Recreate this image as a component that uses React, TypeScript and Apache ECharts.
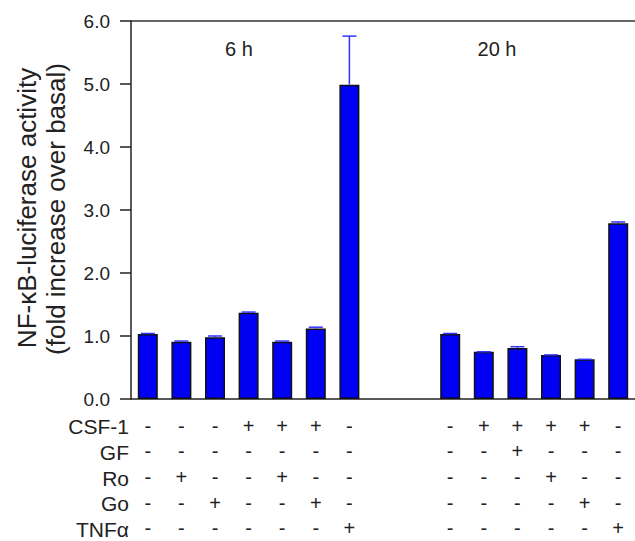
import React, { useEffect, useRef } from "react";
import * as echarts from "echarts";

// Categories: 7 conditions at 6 h, two empty gap slots, 6 conditions at 20 h
const slotIds = ["6h-1", "6h-2", "6h-3", "6h-4", "6h-5", "6h-6", "6h-7", "gap-1", "gap-2", "20h-1", "20h-2", "20h-3", "20h-4", "20h-5", "20h-6"];
const values: (number | null)[] = [1.03, 0.91, 0.98, 1.37, 0.91, 1.12, 4.99, null, null, 1.03, 0.75, 0.81, 0.70, 0.63, 2.79];
const errors: (number | null)[] = [0.01, 0.01, 0.02, 0.01, 0.01, 0.02, 0.77, null, null, 0.01, 0.0, 0.02, 0.0, 0.0, 0.02];

const rowNames = ["CSF-1", "GF", "Ro", "Go", "TNF\u03b1"];
const csf1 = ["-", "-", "-", "+", "+", "+", "-", "", "", "-", "+", "+", "+", "+", "-"];
const gf = ["-", "-", "-", "-", "-", "-", "-", "", "", "-", "-", "+", "-", "-", "-"];
const ro = ["-", "+", "-", "-", "+", "-", "-", "", "", "-", "-", "-", "+", "-", "-"];
const go = ["-", "-", "+", "-", "-", "+", "-", "", "", "-", "-", "-", "-", "+", "-"];
const tnf = ["-", "-", "-", "-", "-", "-", "+", "", "", "-", "-", "-", "-", "-", "+"];
const treatmentRows = [csf1, gf, ro, go, tnf];

const groupLabels = ["6 h", "20 h"];
const yTicks = [0, 1, 2, 3, 4, 5, 6];
const yTitle = ["NF-\u03baB-luciferase activity", "(fold increase over basal)"];

const FONT = "'Liberation Sans', Arial, Helvetica, sans-serif";

export default function App() {
  const ref = useRef<HTMLDivElement>(null);
  useEffect(() => {
    if (!ref.current) return;
    const chart = echarts.init(ref.current, null, { renderer: "svg" });
    const rowLineH = 25.6;
    const rowTop = 414;
    const errData = values
      .map((v, i) => (v === null || errors[i] === null ? null : [i, v, errors[i]]))
      .filter((d) => d !== null);
    chart.setOption({
      animation: false,
      backgroundColor: "#ffffff",
      grid: { left: 131, top: 21, width: 508, height: 379, containLabel: false },
      xAxis: [
        {
          type: "category",
          data: slotIds,
          position: "bottom",
          axisLine: { show: true, lineStyle: { color: "#222", width: 1.5 } },
          axisTick: { show: false },
          axisLabel: {
            interval: 0,
            margin: 14,
            fontFamily: FONT,
            fontSize: 20,
            color: "#222",
            lineHeight: rowLineH,
            formatter: (_v: string, idx: number) => treatmentRows.map((r) => r[idx] || " ").join("\n"),
          },
        },
        {
          type: "category",
          data: slotIds,
          position: "top",
          axisLine: { show: true, lineStyle: { color: "#333", width: 1.5 } },
          axisTick: { show: false },
          axisLabel: { show: false },
        },
      ],
      yAxis: {
        type: "value",
        min: yTicks[0],
        max: yTicks[yTicks.length - 1],
        interval: 1,
        axisLine: { show: true, lineStyle: { color: "#222", width: 1.5 } },
        axisTick: { show: true, length: 11, inside: false, lineStyle: { color: "#222", width: 1.5 } },
        splitLine: { show: false },
        axisLabel: {
          margin: 21,
          fontFamily: FONT,
          fontSize: 19,
          color: "#222",
          formatter: (v: number) => v.toFixed(1),
        },
      },
      series: [
        {
          type: "bar",
          data: values,
          barWidth: 20,
          itemStyle: { color: "#0000f2", borderColor: "#111", borderWidth: 1.5 },
        },
        {
          type: "custom",
          data: errData,
          z: 5,
          renderItem: (params: any, api: any) => {
            const x = api.value(0);
            const y = api.value(1);
            const e = api.value(2);
            const p0 = api.coord([x, y]);
            const p1 = api.coord([x, y + e]);
            const hw = 7;
            const st = { stroke: "#3333ff", lineWidth: 1.5 };
            return {
              type: "group",
              children: [
                { type: "line", shape: { x1: p0[0], y1: p0[1], x2: p1[0], y2: p1[1] }, style: st },
                { type: "line", shape: { x1: p1[0] - hw, y1: p1[1], x2: p1[0] + hw, y2: p1[1] }, style: st },
              ],
            };
          },
        },
      ],
      graphic: [
        {
          type: "text",
          x: 239,
          y: 49,
          style: { text: groupLabels[0], font: `20px ${FONT}`, fill: "#222", align: "center", verticalAlign: "middle" },
        },
        {
          type: "text",
          x: 497,
          y: 49,
          style: { text: groupLabels[1], font: `20px ${FONT}`, fill: "#222", align: "center", verticalAlign: "middle" },
        },
        {
          type: "text",
          x: 27,
          y: 208,
          rotation: Math.PI / 2,
          style: { text: yTitle[0], font: `26px ${FONT}`, fill: "#222", align: "center", verticalAlign: "middle" },
        },
        {
          type: "text",
          x: 56,
          y: 209,
          rotation: Math.PI / 2,
          style: { text: yTitle[1], font: `26px ${FONT}`, fill: "#222", align: "center", verticalAlign: "middle" },
        },
        ...rowNames.map((name, i) => ({
          type: "text",
          x: 129,
          y: rowTop + rowLineH * i + rowLineH / 2,
          style: { text: name, font: `21px ${FONT}`, fill: "#222", align: "right", verticalAlign: "middle" },
        })),
      ],
    });
    return () => chart.dispose();
  }, []);
  return <div ref={ref} style={{ position: "absolute", left: 0, top: 0, width: 635, height: 541 }} />;
}
